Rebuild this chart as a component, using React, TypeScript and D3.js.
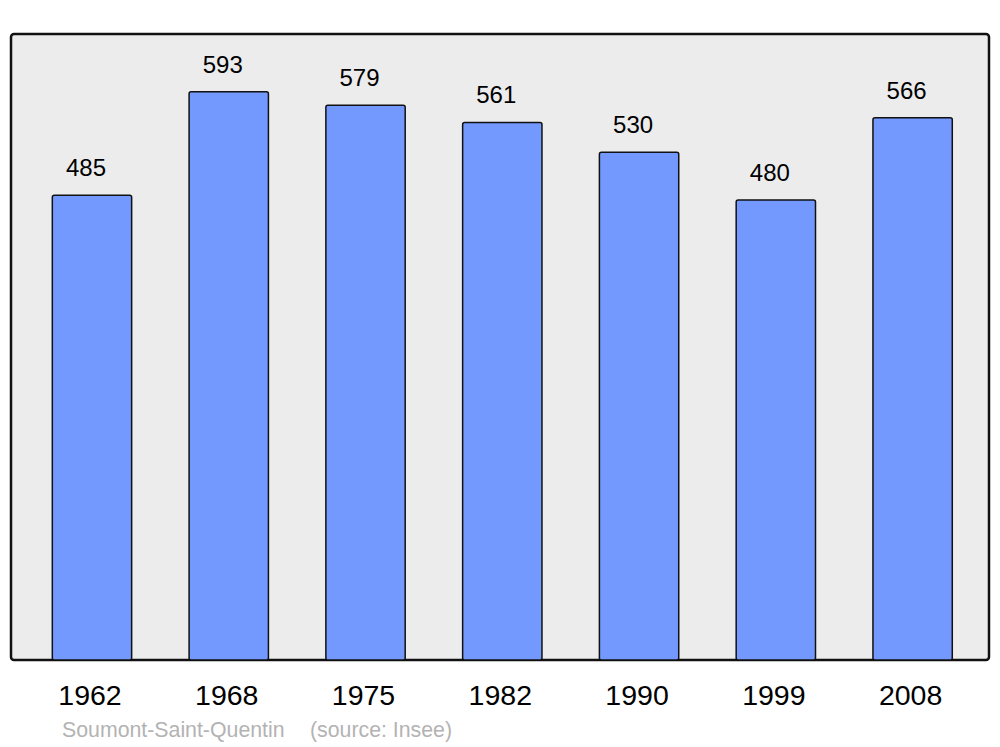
import { useEffect, useRef } from 'react'
import * as d3 from 'd3'

const years = ['1962', '1968', '1975', '1982', '1990', '1999', '2008']
const population = [485, 593, 579, 561, 530, 480, 566]
const commune = 'Soumont-Saint-Quentin'
const sourceNote = '(source: Insee)'

export default function App() {
  const svgRef = useRef<SVGSVGElement>(null)

  useEffect(() => {
    if (!svgRef.current) return
    const svg = d3.select(svgRef.current)
    svg.selectAll('*').remove()

    const width = 1000
    const height = 747
    const panel = { left: 11, top: 34, right: 989, bottom: 660 }
    const font = '"Liberation Sans", Arial, sans-serif'

    svg.attr('width', width).attr('height', height)

    // Background panel
    svg.append('rect')
      .attr('x', panel.left)
      .attr('y', panel.top)
      .attr('width', panel.right - panel.left)
      .attr('height', panel.bottom - panel.top)
      .attr('rx', 3)
      .attr('fill', '#ececec')
      .attr('stroke', '#111')
      .attr('stroke-width', 2.5)

    const x = d3.scaleBand<string>()
      .domain(years)
      .range([23.6, 981])
      .paddingInner(0.42)
      .paddingOuter(0.21)

    const y = d3.scaleLinear()
      .domain([0, d3.max(population)! * 1.1])
      .range([panel.bottom, panel.top + 1])

    const data = years.map((year, i) => ({ year, value: population[i] }))

    // Bars
    svg.append('g')
      .selectAll('rect')
      .data(data)
      .join('rect')
      .attr('x', (d) => x(d.year)!)
      .attr('y', (d) => y(d.value))
      .attr('width', x.bandwidth())
      .attr('height', (d) => y(0) - y(d.value))
      .attr('rx', 2)
      .attr('fill', '#7399ff')
      .attr('stroke', '#111')
      .attr('stroke-width', 1.5)

    // Value labels
    svg.append('g')
      .selectAll('text')
      .data(data)
      .join('text')
      .attr('x', (d) => x(d.year)! + x.bandwidth() / 2 - 6)
      .attr('y', (d) => y(d.value) - 19)
      .attr('text-anchor', 'middle')
      .attr('font-family', font)
      .attr('font-size', 24)
      .attr('fill', '#000')
      .text((d) => d.value)

    // Year labels
    svg.append('g')
      .selectAll('text')
      .data(years)
      .join('text')
      .attr('x', (d) => x(d)! + x.bandwidth() / 2 - 2)
      .attr('y', 705)
      .attr('text-anchor', 'middle')
      .attr('font-family', font)
      .attr('font-size', 28.5)
      .attr('fill', '#000')
      .text((d) => d)

    // Footer
    svg.append('text')
      .attr('x', 62)
      .attr('y', 737)
      .attr('font-family', font)
      .attr('font-size', 21.3)
      .attr('fill', '#b3b3b3')
      .text(commune)

    svg.append('text')
      .attr('x', 310)
      .attr('y', 737)
      .attr('font-family', font)
      .attr('font-size', 21.3)
      .attr('fill', '#b3b3b3')
      .text(sourceNote)
  }, [])

  return (
    <div style={{ position: 'absolute', left: 0, top: 0 }}>
      <svg ref={svgRef} style={{ display: 'block' }} />
    </div>
  )
}
